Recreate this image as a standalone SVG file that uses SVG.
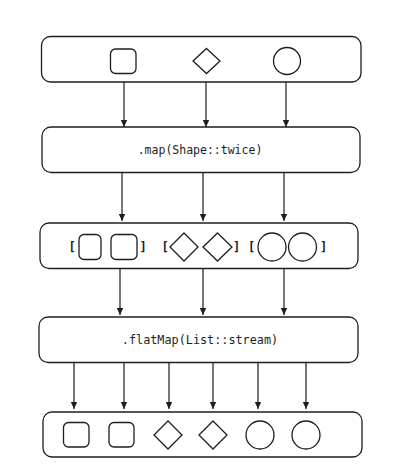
<svg xmlns="http://www.w3.org/2000/svg" width="406" height="467" viewBox="0 0 406 467">
<defs>
<style>
.box{fill:#ffffff;stroke:#1e1e1e;stroke-width:1.3}
.sh{fill:none;stroke:#1e1e1e;stroke-width:1.3}
.lbl{font-family:"DejaVu Sans Mono","Liberation Mono",monospace;font-size:11.5px;fill:#1e1e1e;text-anchor:middle}
.br{font-family:"DejaVu Sans Mono","Liberation Mono",monospace;font-size:12px;font-weight:bold;fill:#1e1e1e;text-anchor:middle}
.ar{fill:none;stroke:#1e1e1e;stroke-width:1.2;marker-end:url(#ah)}
</style>
<marker id="ah" markerWidth="8" markerHeight="8" refX="7" refY="4" orient="auto" markerUnits="userSpaceOnUse">
<path d="M0,0.8 L7,4 L0,7.2 Z" fill="#1e1e1e"/>
</marker>
</defs>
<rect width="406" height="467" fill="#ffffff"/>
<g id="connectors">
<line class="ar" x1="124" y1="82" x2="124" y2="127"/>
<line class="ar" x1="206" y1="82" x2="206" y2="127"/>
<line class="ar" x1="286" y1="82" x2="286" y2="127"/>
<line class="ar" x1="122" y1="173" x2="122" y2="221"/>
<line class="ar" x1="203" y1="173" x2="203" y2="221"/>
<line class="ar" x1="284" y1="173" x2="284" y2="221"/>
<line class="ar" x1="120" y1="269" x2="120" y2="315"/>
<line class="ar" x1="203" y1="269" x2="203" y2="315"/>
<line class="ar" x1="284" y1="269" x2="284" y2="315"/>
<line class="ar" x1="74" y1="363" x2="74" y2="409"/>
<line class="ar" x1="124" y1="363" x2="124" y2="409"/>
<line class="ar" x1="169" y1="363" x2="169" y2="409"/>
<line class="ar" x1="213" y1="363" x2="213" y2="409"/>
<line class="ar" x1="258" y1="363" x2="258" y2="409"/>
<line class="ar" x1="306" y1="363" x2="306" y2="409"/>
</g>
<g id="input">
<rect class="box" x="41.5" y="36.5" width="319.5" height="45.5" rx="9"/>
<rect class="sh" x="110.5" y="49" width="25.5" height="24.5" rx="5"/>
<path class="sh" d="M206.5,48.5 L220,61 L206.5,73.5 L193,61 Z"/>
<circle class="sh" cx="287" cy="61" r="13.5"/>
</g>
<g id="map">
<rect class="box" x="42" y="127" width="318" height="45.5" rx="9"/>
<text class="lbl" x="200" y="153.5">.map(Shape::twice)</text>
</g>
<g id="lists">
<rect class="box" x="40" y="223" width="318" height="45.5" rx="9"/>
<text class="br" x="72" y="250.5">[</text>
<rect class="sh" x="79" y="234.5" width="22" height="25" rx="5"/>
<rect class="sh" x="111" y="234.5" width="26" height="25" rx="5"/>
<text class="br" x="143" y="250.5">]</text>
<text class="br" x="165" y="250.5">[</text>
<path class="sh" d="M184,233 L198,247 L184,261 L170,247 Z"/>
<path class="sh" d="M217.5,233 L232,247 L217.5,261 L203,247 Z"/>
<text class="br" x="236.5" y="250.5">]</text>
<text class="br" x="251.5" y="250.5">[</text>
<circle class="sh" cx="272" cy="247" r="14"/>
<circle class="sh" cx="302.5" cy="247" r="14"/>
<text class="br" x="323.5" y="250.5">]</text>
</g>
<g id="flatmap">
<rect class="box" x="39" y="317" width="319" height="45.5" rx="9"/>
<text class="lbl" x="200" y="343.5" style="font-size:11.8px">.flatMap(List::stream)</text>
</g>
<g id="output">
<rect class="box" x="43" y="412" width="319" height="45" rx="9"/>
<rect class="sh" x="63.5" y="422.5" width="25.5" height="24.5" rx="5"/>
<rect class="sh" x="109" y="422.5" width="25" height="24.5" rx="5"/>
<path class="sh" d="M168,421 L182,435 L168,449 L154,435 Z"/>
<path class="sh" d="M213,421 L227,435 L213,449 L199,435 Z"/>
<circle class="sh" cx="260" cy="435" r="14"/>
<circle class="sh" cx="306" cy="435" r="14"/>
</g>
</svg>
